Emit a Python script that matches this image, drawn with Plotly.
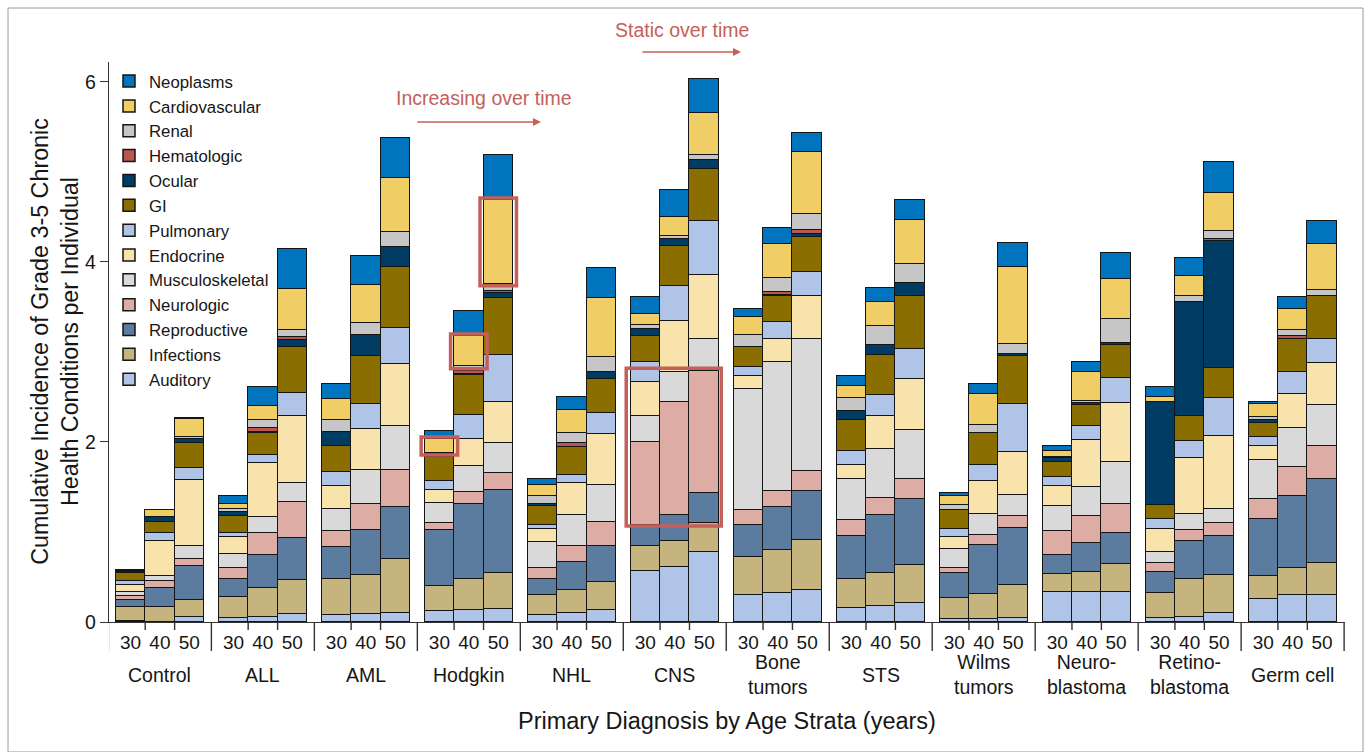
import plotly.graph_objects as go

# ---------------- data ----------------
groups = ["Control", "ALL", "AML", "Hodgkin", "NHL", "CNS", "Bone<br>tumors", "STS",
          "Wilms<br>tumors", "Neuro-<br>blastoma", "Retino-<br>blastoma", "Germ cell"]
ages = ["30", "40", "50"]

# values per category: 12 groups x 3 age strata (30, 40, 50)
auditory = [0.01, 0.0, 0.06, 0.045, 0.06, 0.09, 0.075, 0.09, 0.1, 0.12, 0.135, 0.14,
            0.08, 0.095, 0.135, 0.565, 0.615, 0.78, 0.3, 0.32, 0.36, 0.16, 0.18, 0.215,
            0.03, 0.03, 0.04, 0.33, 0.33, 0.33, 0.04, 0.06, 0.095, 0.255, 0.295, 0.295]
infections = [0.16, 0.17, 0.185, 0.23, 0.32, 0.38, 0.4, 0.43, 0.6, 0.28, 0.34, 0.4,
              0.22, 0.26, 0.305, 0.283, 0.287, 0.32, 0.425, 0.48, 0.555, 0.315, 0.36, 0.42,
              0.235, 0.28, 0.37, 0.205, 0.23, 0.31, 0.285, 0.415, 0.425, 0.26, 0.305, 0.36]
reproductive = [0.08, 0.21, 0.38, 0.2, 0.36, 0.46, 0.36, 0.5, 0.575, 0.62, 0.835, 0.925,
                0.175, 0.31, 0.4, 0.23, 0.283, 0.335, 0.35, 0.475, 0.54, 0.485, 0.65, 0.73,
                0.28, 0.545, 0.635, 0.21, 0.315, 0.35, 0.235, 0.425, 0.435, 0.635, 0.805, 0.935]
neurologic = [0.04, 0.08, 0.08, 0.125, 0.25, 0.4, 0.175, 0.29, 0.415, 0.075, 0.135, 0.19,
              0.12, 0.18, 0.27, 0.92, 1.26, 1.355, 0.165, 0.18, 0.22, 0.175, 0.185, 0.22,
              0.055, 0.11, 0.13, 0.265, 0.305, 0.325, 0.1, 0.12, 0.14, 0.22, 0.32, 0.37]
musculoskeletal = [0.04, 0.055, 0.14, 0.16, 0.18, 0.22, 0.25, 0.38, 0.49, 0.23, 0.29, 0.335,
                   0.29, 0.34, 0.41, 0.29, 0.33, 0.35, 1.345, 1.435, 1.465, 0.45, 0.545, 0.55,
                   0.215, 0.24, 0.235, 0.28, 0.325, 0.465, 0.12, 0.185, 0.165, 0.425, 0.425, 0.45]
endocrine = [0.08, 0.39, 0.73, 0.185, 0.6, 0.74, 0.25, 0.455, 0.69, 0.14, 0.3, 0.45,
             0.145, 0.355, 0.565, 0.375, 0.565, 0.71, 0.145, 0.25, 0.485, 0.16, 0.37, 0.56,
             0.135, 0.365, 0.48, 0.22, 0.52, 0.655, 0.25, 0.62, 0.805, 0.155, 0.38, 0.47]
pulmonary = [0.05, 0.085, 0.14, 0.045, 0.085, 0.25, 0.155, 0.28, 0.4, 0.1, 0.26, 0.53,
             0.045, 0.09, 0.24, 0.23, 0.395, 0.6, 0.105, 0.19, 0.26, 0.16, 0.235, 0.335,
             0.08, 0.175, 0.535, 0.105, 0.15, 0.28, 0.11, 0.185, 0.42, 0.11, 0.245, 0.265]
gi = [0.08, 0.12, 0.27, 0.185, 0.25, 0.52, 0.285, 0.525, 0.675, 0.27, 0.445, 0.635,
      0.215, 0.31, 0.38, 0.287, 0.445, 0.585, 0.22, 0.29, 0.395, 0.335, 0.445, 0.59,
      0.215, 0.35, 0.525, 0.16, 0.235, 0.365, 0.16, 0.275, 0.34, 0.15, 0.365, 0.48]
ocular = [0.02, 0.06, 0.045, 0.05, 0.01, 0.075, 0.16, 0.235, 0.225, 0.045, 0.01, 0.045,
          0.02, 0.0, 0.075, 0.08, 0.08, 0.1, 0.0, 0.01, 0.035, 0.1, 0.11, 0.15,
          0.0, 0.0, 0.03, 0.045, 0.025, 0.025, 1.14, 1.265, 1.405, 0.035, 0.0, 0.0]
hematologic = [0.0, 0.0, 0.0, 0.0, 0.04, 0.03, 0.0, 0.0, 0.0, 0.0, 0.035, 0.03,
               0.0, 0.045, 0.0, 0.0, 0.0, 0.0, 0.0, 0.035, 0.045, 0.0, 0.0, 0.0,
               0.0, 0.0, 0.0, 0.0, 0.0, 0.0, 0.0, 0.0, 0.03, 0.0, 0.035, 0.0]
renal = [0.005, 0.0, 0.03, 0.035, 0.09, 0.08, 0.135, 0.14, 0.165, 0.0, 0.055, 0.08,
         0.09, 0.11, 0.165, 0.035, 0.03, 0.05, 0.13, 0.16, 0.17, 0.15, 0.205, 0.205,
         0.05, 0.095, 0.105, 0.01, 0.02, 0.26, 0.0, 0.075, 0.08, 0.035, 0.065, 0.065]
cardiovascular = [0.005, 0.07, 0.2, 0.055, 0.15, 0.455, 0.235, 0.415, 0.6, 0.15, 0.335, 0.925,
                  0.12, 0.26, 0.65, 0.125, 0.21, 0.465, 0.205, 0.37, 0.69, 0.135, 0.265, 0.495,
                  0.105, 0.345, 0.86, 0.065, 0.32, 0.445, 0.065, 0.22, 0.425, 0.14, 0.235, 0.51]
neoplasms = [0.005, 0.005, 0.01, 0.09, 0.22, 0.44, 0.165, 0.325, 0.44, 0.095, 0.28, 0.5,
             0.07, 0.145, 0.335, 0.19, 0.3, 0.384, 0.085, 0.185, 0.215, 0.105, 0.16, 0.22,
             0.035, 0.11, 0.27, 0.065, 0.11, 0.295, 0.105, 0.195, 0.35, 0.02, 0.135, 0.25]

# stacking order bottom -> top
series = [
    ("Auditory", auditory, "#AFC4E6"),
    ("Infections", infections, "#C5B47D"),
    ("Reproductive", reproductive, "#5B7B9F"),
    ("Neurologic", neurologic, "#DDADA5"),
    ("Musculoskeletal", musculoskeletal, "#D9D9D9"),
    ("Endocrine", endocrine, "#F7E3AB"),
    ("Pulmonary", pulmonary, "#AFC4E6"),
    ("GI", gi, "#8A6E00"),
    ("Ocular", ocular, "#003B63"),
    ("Hematologic", hematologic, "#B9564F"),
    ("Renal", renal, "#C6C6C6"),
    ("Cardiovascular", cardiovascular, "#F0CE65"),
    ("Neoplasms", neoplasms, "#0074BD"),
]

GROUP_STEP = 3.5
positions = [g * GROUP_STEP + k for g in range(len(groups)) for k in range(len(ages))]
tick_text = ages * len(groups)

RED = "#C4605A"
INK = "#161616"
FONT = "Liberation Sans, Arial, sans-serif"

fig = go.Figure()
for i, (name, vals, col) in enumerate(series):
    fig.add_trace(go.Bar(
        x=positions, y=vals, name=name, width=1.0,
        marker=dict(color=col, line=dict(color="#151515", width=1.5)),
        legendgroup=name, legendrank=1000 - 10 * i,
    ))

xmin, xmax = -0.73, positions[-1] + 0.78
ymin, ymax = 0.0, 6.222
PLOT_H = 560.0

shapes = []
# separators under the x axis: long at group gaps, short between bars
for g in range(len(groups) + 1):
    s = g * GROUP_STEP - 0.75
    shapes.append(dict(type="line", xref="x", yref="paper", x0=s, x1=s, y0=0, y1=-29 / PLOT_H,
                       line=dict(color="#333333", width=1.4)))
for g in range(len(groups)):
    for off in (0.5, 1.5):
        s = g * GROUP_STEP + off
        shapes.append(dict(type="line", xref="x", yref="paper", x0=s, x1=s, y0=0, y1=-8 / PLOT_H,
                           line=dict(color="#333333", width=1.4)))

def seg_bounds(idx, cat_name):
    b = 0.0
    for name, vals, _ in series:
        if name == cat_name:
            return b, b + vals[idx]
        b += vals[idx]

# red boxes around Hodgkin cardiovascular segments
hod = groups.index("Hodgkin")
for k in range(3):
    i = hod * 3 + k
    lo, hi = seg_bounds(i, "Cardiovascular")
    shapes.append(dict(type="rect", xref="x", yref="y", x0=positions[i] - 0.62, x1=positions[i] + 0.62,
                       y0=lo - 0.025, y1=hi + 0.025, line=dict(color=RED, width=3.5)))
# red box around CNS neurologic
cns = groups.index("CNS")
los, his = [], []
for k in range(3):
    lo, hi = seg_bounds(cns * 3 + k, "Neurologic")
    los.append(lo); his.append(hi)
shapes.append(dict(type="rect", xref="x", yref="y", x0=positions[cns * 3] - 0.65, x1=positions[cns * 3 + 2] + 0.58,
                   y0=min(los) - 0.01, y1=max(his) + 0.03, line=dict(color=RED, width=3.5)))

# outer frame
shapes.append(dict(type="rect", xref="paper", yref="paper", x0=-0.0817, x1=1.0146, y0=-0.2321, y1=1.0964,
                   line=dict(color="#9A9A9A", width=1)))

annotations = []
for g, lab in enumerate(groups):
    annotations.append(dict(x=g * GROUP_STEP + 1, y=-53 / PLOT_H, xref="x", yref="paper", text=lab,
                            showarrow=False, yanchor="middle", font=dict(size=19.5, color=INK, family=FONT)))
annotations.append(dict(x=0.5, y=-99 / PLOT_H, xref="paper", yref="paper",
                        text="Primary Diagnosis by Age Strata (years)", showarrow=False, yanchor="middle",
                        font=dict(size=23.5, color=INK, family=FONT)))
annotations.append(dict(x=-0.0437, y=0.502, xref="paper", yref="paper", xanchor="center", yanchor="middle",
                        text="Cumulative Incidence of Grade 3-5 Chronic<br>Health Conditions per Individual",
                        textangle=-90, showarrow=False, font=dict(size=23.3, color=INK, family=FONT)))
# time annotations
hx = hod * GROUP_STEP
annotations.append(dict(x=hx + 1.53, y=5.82, xref="x", yref="y", text="Increasing over time", showarrow=False,
                        yanchor="middle", font=dict(size=19.5, color=RED, family=FONT)))
annotations.append(dict(x=hx + 3.45, y=5.556, ax=hx - 0.8, ay=5.556, xref="x", yref="y", axref="x", ayref="y",
                        text="", showarrow=True, arrowhead=2, arrowsize=1, arrowwidth=1.6, arrowcolor=RED))
cx = cns * GROUP_STEP
annotations.append(dict(x=cx + 1.26, y=1.057, xref="x", yref="paper", text="Static over time", showarrow=False,
                        yanchor="middle", font=dict(size=19.5, color=RED, family=FONT)))
annotations.append(dict(x=cx + 3.25, y=1.0179, ax=cx - 0.15, ay=0, xref="x", yref="paper",
                        axref="x", ayref="pixel",
                        text="", showarrow=True, arrowhead=2, arrowsize=1, arrowwidth=1.6, arrowcolor=RED))

fig.update_layout(
    width=1368, height=752,
    margin=dict(l=109, r=23, t=62, b=130),
    paper_bgcolor="white", plot_bgcolor="white",
    barmode="stack", bargap=0,
    font=dict(family=FONT, color=INK),
    showlegend=True,
    legend=dict(x=0.0, y=0.997, xanchor="left", yanchor="top", traceorder="grouped",
                tracegroupgap=0, font=dict(size=16.8, color=INK, family=FONT),
                bgcolor="rgba(0,0,0,0)", itemwidth=30),
    xaxis=dict(range=[xmin, xmax], tickvals=positions, ticktext=tick_text, ticks="outside", ticklen=3,
               tickcolor="rgba(0,0,0,0)",
               showline=True, linecolor="#333333", linewidth=1.4, showgrid=False, zeroline=False,
               tickfont=dict(size=19, color=INK), fixedrange=True),
    yaxis=dict(range=[ymin, ymax], tickvals=[0, 2, 4, 6], ticks="outside", ticklen=8, tickwidth=1.4,
               tickcolor="#333333", showline=True, linecolor="#333333", linewidth=1.4,
               showgrid=False, zeroline=False, tickfont=dict(size=19.5, color=INK)),
    shapes=shapes,
    annotations=annotations,
)

fig.write_html("out.html", config={"displayModeBar": False},
               post_script="document.body.style.margin='0';")
